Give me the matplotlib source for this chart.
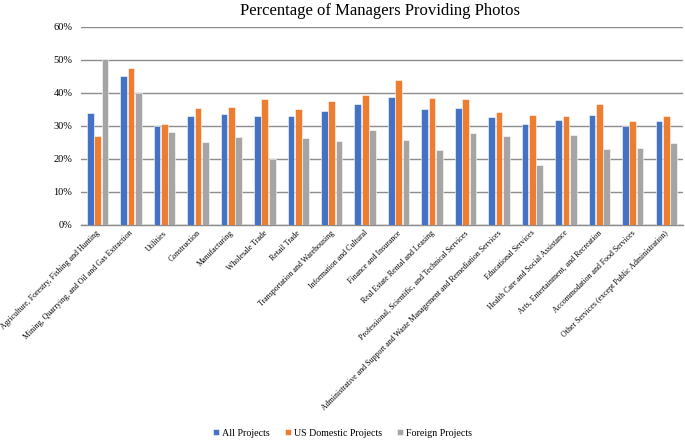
import matplotlib
matplotlib.use("Agg")
import matplotlib.pyplot as plt
import numpy as np
from matplotlib.ticker import PercentFormatter

plt.rcParams['font.family'] = ['Liberation Serif', 'DejaVu Serif']

# Industry categories (x axis)
industries = [
    'Agriculture, Forestry, Fishing and Hunting',
    'Mining, Quarrying, and Oil and Gas Extraction',
    'Utilities',
    'Construction',
    'Manufacturing',
    'Wholesale Trade',
    'Retail Trade',
    'Transportation and Warehousing',
    'Information and Cultural',
    'Finance and Insurance',
    'Real Estate Rental and Leasing',
    'Professional, Scientific, and Technical Services',
    'Administrative and Support and Waste Management and Remediation Services',
    'Educational Services',
    'Health Care and Social Assistance',
    'Arts, Entertainment, and Recreation',
    'Accommodation and Food Services',
    'Other Services (except Public Administration)',
]

# Share of managers providing photos (%)
all_projects = [34.0, 45.2, 30.0, 32.9, 33.6, 33.1, 33.1, 34.6, 36.6, 38.8,
                35.1, 35.5, 32.6, 30.7, 31.7, 33.2, 29.8, 31.4]
us_domestic = [26.8, 47.5, 30.5, 35.5, 35.7, 38.0, 35.1, 37.5, 39.2, 44.0,
               38.4, 38.1, 34.2, 33.4, 33.0, 36.6, 31.4, 32.9]
foreign = [50.3, 40.1, 28.0, 25.2, 26.5, 20.1, 26.3, 25.5, 28.6, 25.8,
           22.6, 27.8, 26.9, 18.2, 27.2, 23.1, 23.3, 24.8]

fig = plt.figure(figsize=(6.85, 4.4), dpi=100)
ax = fig.add_axes([0.118, 0.489, 0.879, 0.45])

x = np.arange(len(industries))
w = 0.2
ax.bar(x - w * 1.1, all_projects, w, color='#4472C4', edgecolor='white', linewidth=0.4, label='All Projects', zorder=3)
ax.bar(x, us_domestic, w, color='#ED7D31', edgecolor='white', linewidth=0.4, label='US Domestic Projects', zorder=3)
ax.bar(x + w * 1.1, foreign, w, color='#A5A5A5', edgecolor='white', linewidth=0.4, label='Foreign Projects', zorder=3)

ax.set_xlim(-0.5, len(industries) - 0.5)
ax.set_ylim(0, 60)
ax.set_yticks(range(0, 61, 10))
ax.yaxis.set_major_formatter(PercentFormatter(decimals=0))
ax.grid(axis='y', color='#8c8c8c', linewidth=1.0, zorder=0)
for s in ['top', 'right', 'left']:
    ax.spines[s].set_visible(False)
ax.spines['bottom'].set_color('#8c8c8c')
ax.spines['bottom'].set_linewidth(1.0)
ax.tick_params(axis='both', length=0)
ax.tick_params(axis='y', labelsize=7.5, pad=6)

ax.set_xticks(x - 0.05)
ax.set_xticklabels(industries, rotation=45, ha='right', va='top',
                   rotation_mode='anchor', fontsize=5.7)
ax.tick_params(axis='x', pad=3)

fig.text(0.555, 0.975, 'Percentage of Managers Providing Photos',
         ha='center', va='center', fontsize=12)

fig.legend(loc='lower center', ncol=3, frameon=False, fontsize=7.2,
           bbox_to_anchor=(0.5, -0.015), handlelength=0.6, handleheight=0.6,
           handletextpad=0.3, columnspacing=1.5)

fig.savefig('out.png', dpi=100)
